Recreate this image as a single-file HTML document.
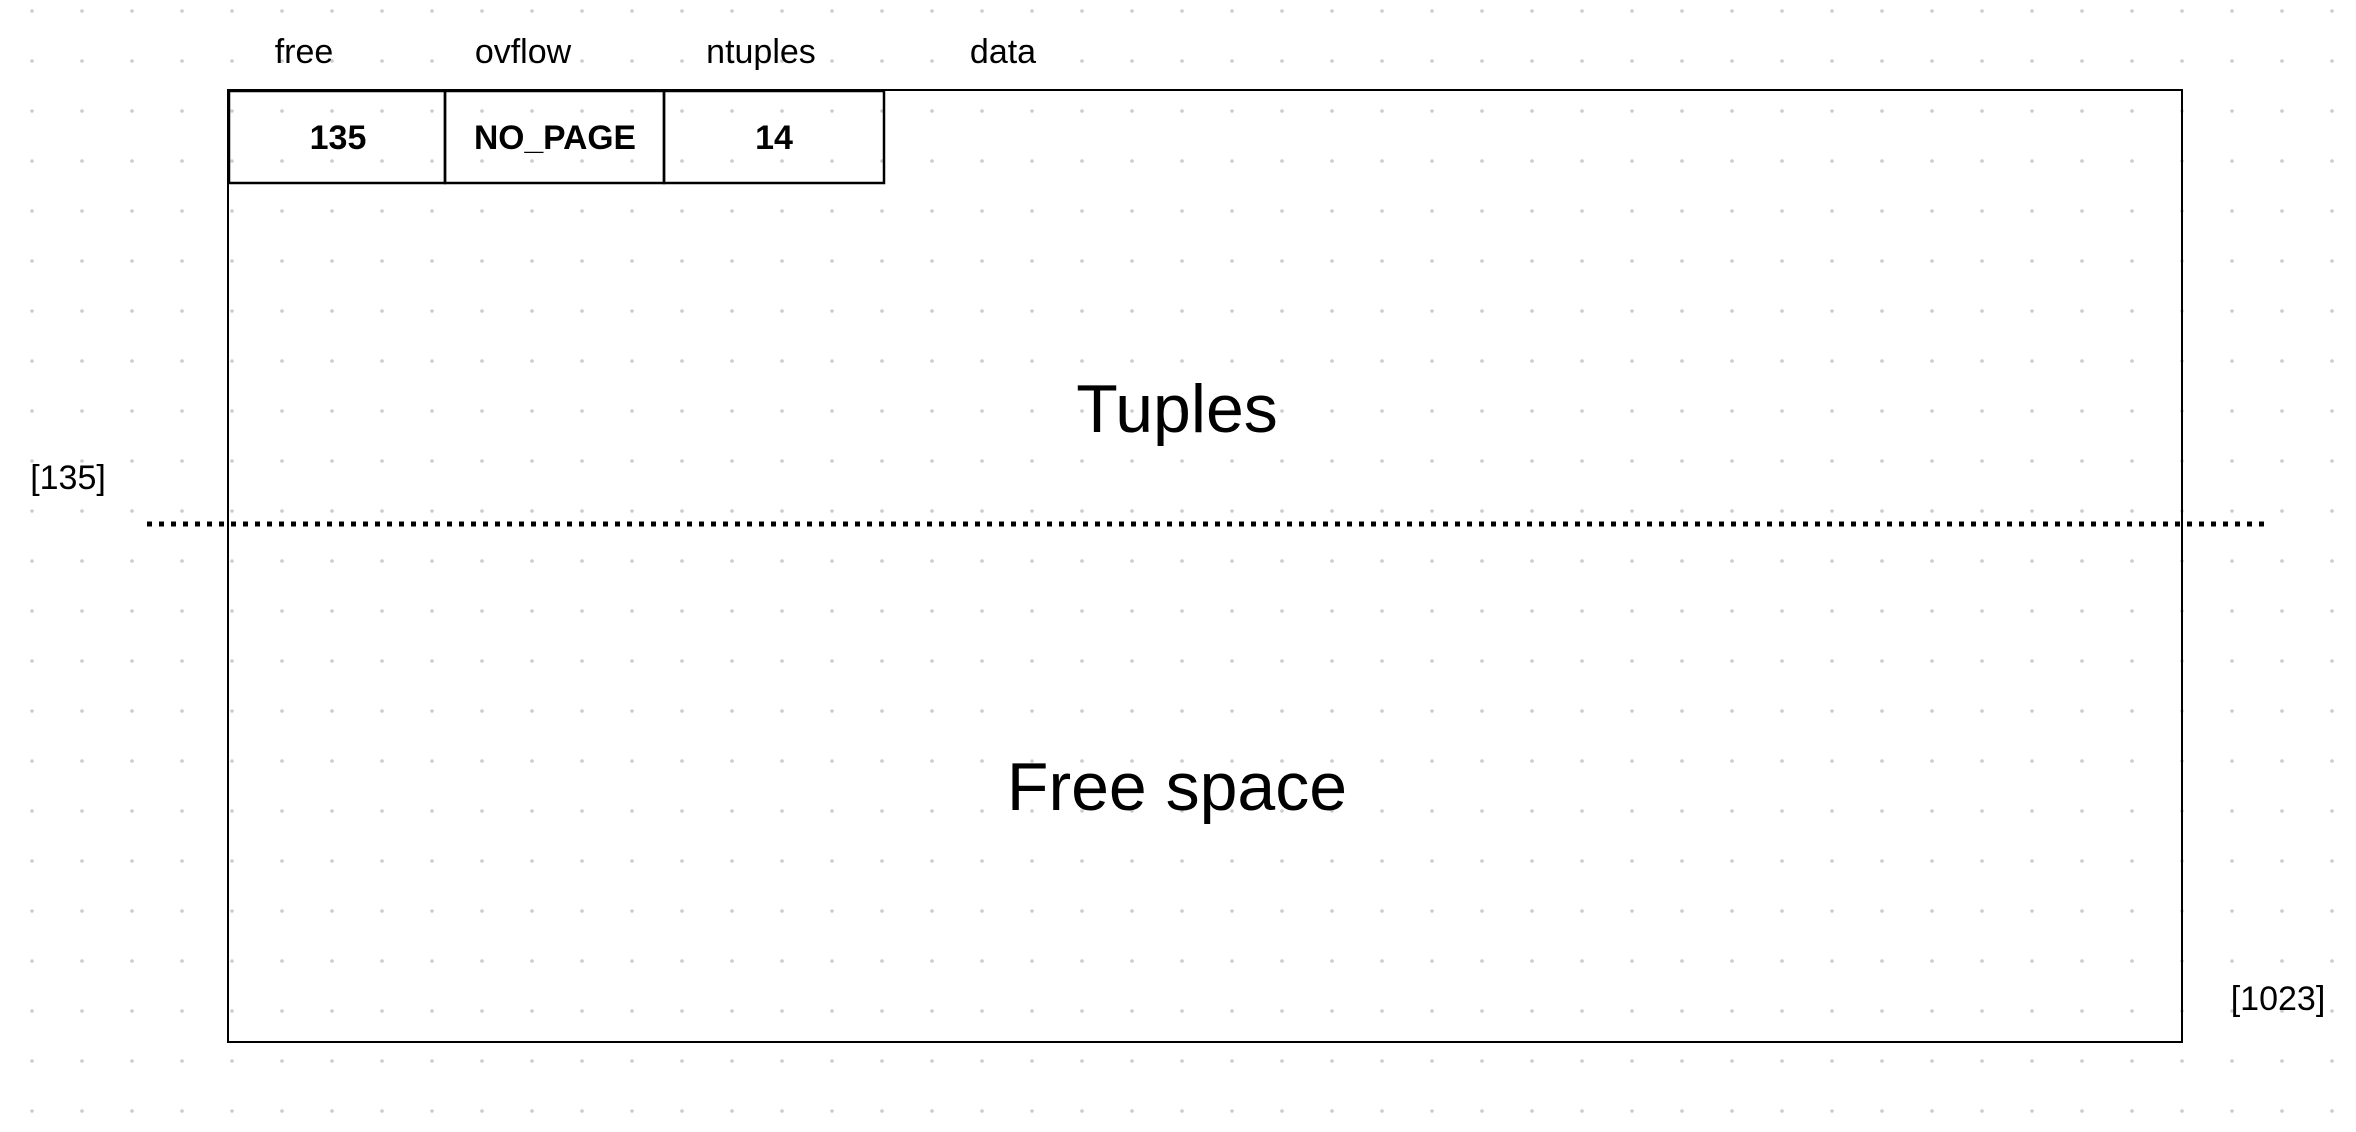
<!DOCTYPE html>
<html><head><meta charset="utf-8"><style>
html,body{margin:0;padding:0;background:#fff;}
svg{display:block;font-family:"Liberation Sans",sans-serif;}
</style></head><body>
<svg width="2356" height="1132" viewBox="0 0 2356 1132">
<defs><pattern id="dots" x="7" y="-14" width="50" height="50" patternUnits="userSpaceOnUse"><circle cx="25" cy="25" r="1.8" fill="#cccccc"/></pattern></defs>
<rect x="0" y="0" width="2356" height="1132" fill="url(#dots)"/>
<g fill="#000" font-size="34" text-anchor="middle">
<text x="304" y="63">free</text>
<text x="523" y="63">ovflow</text>
<text x="761" y="63">ntuples</text>
<text x="1003" y="63">data</text>
</g>
<rect x="228" y="90" width="1954" height="952" fill="none" stroke="#000" stroke-width="2"/>
<g fill="none" stroke="#000" stroke-width="2.5">
<rect x="229" y="91" width="216" height="92"/>
<rect x="445" y="91" width="219" height="92"/>
<rect x="664" y="91" width="220" height="92"/>
</g>
<g fill="#000" font-size="34" font-weight="bold" text-anchor="middle">
<text x="338" y="149">135</text>
<text x="555" y="149" textLength="162" lengthAdjust="spacingAndGlyphs">NO_PAGE</text>
<text x="774" y="149">14</text>
</g>
<text x="1177" y="432" font-size="68" text-anchor="middle">Tuples</text>
<text x="1177" y="810" font-size="68" text-anchor="middle">Free space</text>
<line x1="147" y1="524" x2="2265" y2="524" stroke="#000" stroke-width="5" stroke-dasharray="5 7"/>
<text x="68" y="489" font-size="34" text-anchor="middle">[135]</text>
<text x="2278" y="1010" font-size="34" text-anchor="middle">[1023]</text>
</svg>
</body></html>
